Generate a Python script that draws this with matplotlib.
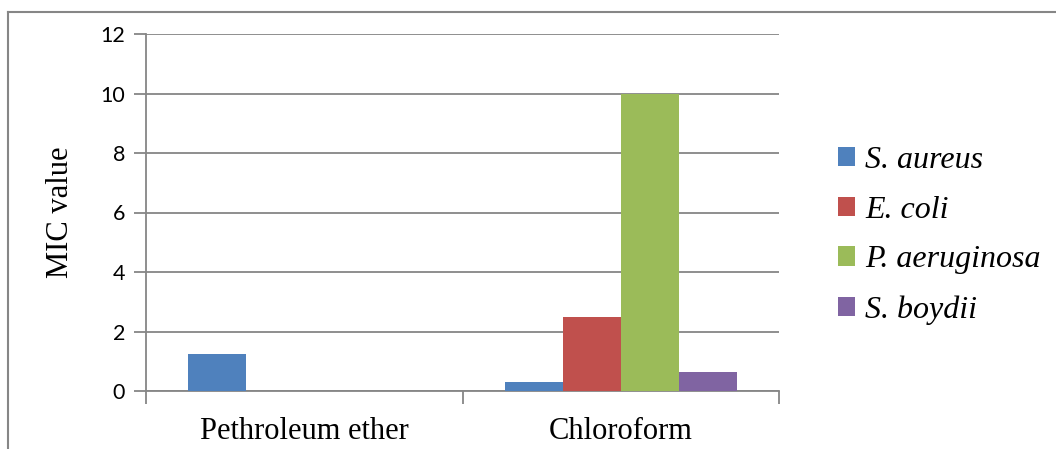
import matplotlib.pyplot as plt
import numpy as np
from matplotlib.lines import Line2D

categories = ["Pethroleum ether", "Chloroform"]
species = ["S. aureus", "E. coli", "P. aeruginosa", "S. boydii"]
s_aureus = [1.25, 0.3125]
e_coli = [0, 2.5]
p_aeruginosa = [0, 10]
s_boydii = [0, 0.625]
colors = ["#4F81BD", "#C0504D", "#9BBB59", "#8064A2"]

GRID = "#868686"
SERIF = "Liberation Serif"

fig = plt.figure(figsize=(10.56, 4.49), dpi=100)
ax = fig.add_axes([146 / 1056, 1 - 391 / 449, (779 - 146) / 1056, (391 - 34) / 449])

# outer chart frame (right and bottom are cut off in the original)
fig.add_artist(Line2D([8 / 1056, 8 / 1056], [0, 1 - 12 / 449], transform=fig.transFigure, color=GRID, lw=1.5))
fig.add_artist(Line2D([8 / 1056, 1], [1 - 12 / 449, 1 - 12 / 449], transform=fig.transFigure, color=GRID, lw=1.5))

x = np.arange(len(categories))
w = 0.183
series = [s_aureus, e_coli, p_aeruginosa, s_boydii]
for i, (vals, name, c) in enumerate(zip(series, species, colors)):
    ax.bar(x + (i - 1.5) * w, vals, width=w, color=c, label=name, zorder=3)

ax.set_xlim(-0.5, 1.5)
ax.set_ylim(0, 12)
ax.set_yticks(np.arange(0, 13, 2))
ax.yaxis.grid(True, color=GRID, lw=1.3, zorder=0)
ax.set_axisbelow(True)
for s in ["top", "right"]:
    ax.spines[s].set_visible(False)
for s in ["left", "bottom"]:
    ax.spines[s].set_color(GRID)
    ax.spines[s].set_linewidth(1.3)

ax.set_xticks([-0.5, 0.5, 1.5])
ax.set_xticklabels([])
ax.set_xticks(x, minor=True)
ax.set_xticklabels(categories, minor=True, fontsize=22, family=SERIF)
ax.tick_params(axis="x", which="minor", length=0, pad=19)
ax.tick_params(axis="x", which="major", length=9, color=GRID, width=1.3)
ax.tick_params(axis="y", length=9, color=GRID, width=1.3, pad=6, labelsize=15.5)
for t in ax.get_yticklabels():
    t.set_family("Lato")

ax.set_ylabel("MIC value", fontsize=22, family=SERIF, labelpad=18)

leg = fig.legend(
    loc="upper left",
    bbox_to_anchor=(809 / 1056, 1 - 117 / 449),
    frameon=False,
    prop={"family": SERIF, "style": "italic", "size": 23},
    handlelength=0.55,
    handleheight=0.55,
    handletextpad=0.3,
    labelspacing=0.65,
)

fig.savefig("out.png", dpi=100)
